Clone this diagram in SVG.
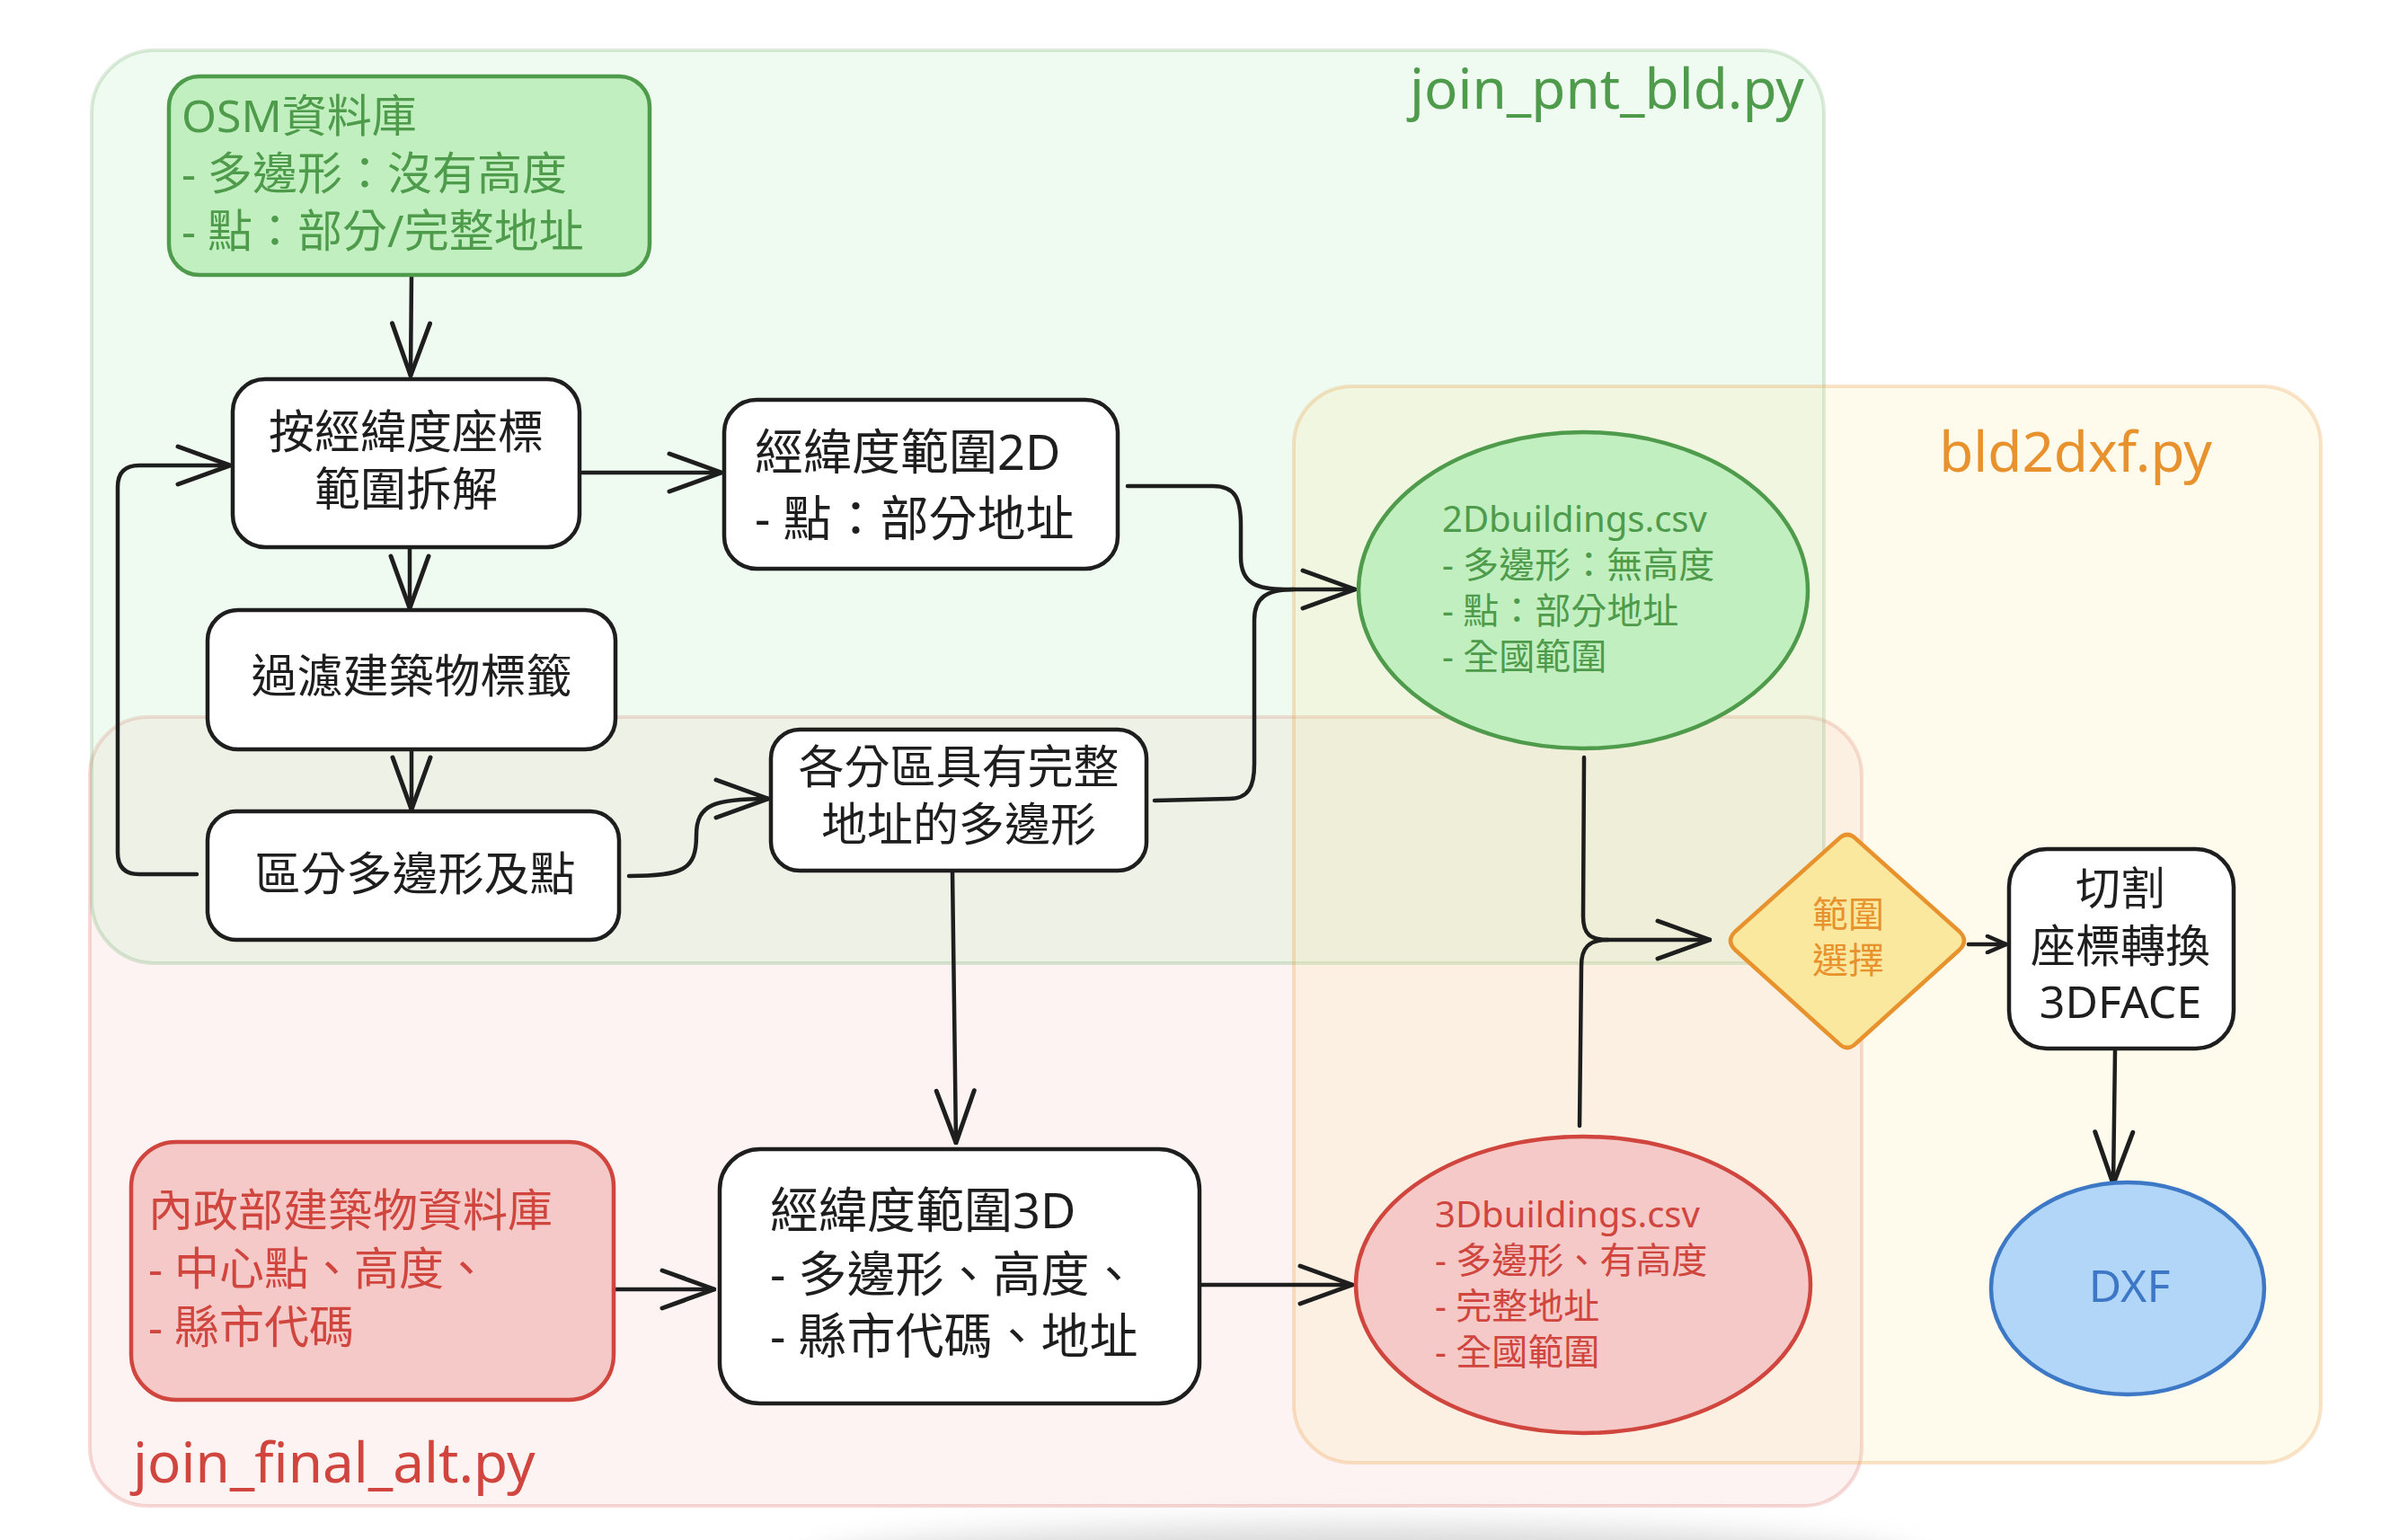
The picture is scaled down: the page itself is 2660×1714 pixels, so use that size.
<svg xmlns="http://www.w3.org/2000/svg" width="2660" height="1714" viewBox="0 0 2660 1714">
<defs>
<style>
text{font-family:'Noto Sans','Noto Sans CJK TC',sans-serif;}
.frame{stroke-width:4;}
.node{stroke-width:4.5;}
.black{fill:#1e1e1e;}
.blk{fill:#ffffff;stroke:#1e1e1e;}
.conn{fill:none;stroke:#1e1e1e;stroke-width:4.5;stroke-linecap:round;stroke-linejoin:round;}
.c{text-anchor:middle;}
.green{fill:#4f9b4c;}
.red{fill:#d0453d;}
</style>
<marker id="arrow" viewBox="0 0 64 48" refX="62" refY="24" markerWidth="64" markerHeight="48" markerUnits="userSpaceOnUse" orient="auto">
<path d="M 4 3 L 62 24 L 4 45" fill="none" stroke="#1e1e1e" stroke-width="5" stroke-linecap="round" stroke-linejoin="round"/>
</marker>
<marker id="arrowS" viewBox="0 0 26 22" refX="24" refY="11" markerWidth="26" markerHeight="22" markerUnits="userSpaceOnUse" orient="auto">
<path d="M 3 2 L 24 11 L 3 20" fill="none" stroke="#1e1e1e" stroke-width="4.5" stroke-linecap="round" stroke-linejoin="round"/>
</marker>
<filter id="blur" x="-20%" y="-200%" width="140%" height="500%">
<feGaussianBlur stdDeviation="18"/>
</filter>
</defs>
<rect x="0" y="0" width="2660" height="1714" fill="#ffffff"/>
<ellipse cx="1520" cy="1745" rx="620" ry="45" fill="#d6d6d6" filter="url(#blur)"/>

<g id="group-join-final-alt">
<rect class="frame" x="100" y="798" width="1972" height="878" rx="65" fill="#f4c9c8" fill-opacity="0.22" stroke="#d0453d" stroke-opacity="0.2"/>
<text class="red" x="148" y="1650" font-size="62">join_final_alt.py</text>
</g>
<g id="group-join-pnt-bld">
<rect class="frame" x="102" y="56" width="1928" height="1016" rx="70" fill="#b8efbc" fill-opacity="0.22" stroke="#4f9b4c" stroke-opacity="0.2"/>
<text class="green" x="2008" y="121" font-size="62" text-anchor="end">join_pnt_bld.py</text>
</g>
<g id="group-bld2dxf">
<rect class="frame" x="1440" y="430" width="1143" height="1198" rx="65" fill="#fae89e" fill-opacity="0.2" stroke="#e8922e" stroke-opacity="0.25"/>
<text x="2462" y="525" font-size="62" fill="#e8922e" text-anchor="end">bld2dxf.py</text>
</g>

<g id="connectors">
<path class="conn" d="M 458 306 L 457 418" marker-end="url(#arrow)"/>
<path class="conn" d="M 648 526 L 803 526" stroke-width="5" marker-end="url(#arrow)"/>
<path class="conn" d="M 456 610 L 456 677" marker-end="url(#arrow)"/>
<path class="conn" d="M 458 834 L 458 901" marker-end="url(#arrow)"/>
<path class="conn" d="M 219 973 L 155 973 Q 131 973 131 949 L 131 542 Q 131 518 155 518 L 256 518" marker-end="url(#arrow)"/>
<path class="conn" d="M 700 975 C 760 975 775 968 775 930 C 775 895 795 889 855 889" marker-end="url(#arrow)"/>
<path class="conn" d="M 1255 541 L 1350 541 C 1375 541 1381 555 1381 585 L 1381 620 C 1381 650 1400 656 1430 656 L 1508 656" stroke-width="5" marker-end="url(#arrow)"/>
<path class="conn" d="M 1285 891 L 1368 889 C 1390 889 1396 875 1396 850 L 1396 690 C 1396 665 1410 656 1440 656"/>
<path class="conn" d="M 1060 969 L 1064 1272" marker-end="url(#arrow)"/>
<path class="conn" d="M 685 1435 L 795 1435" marker-end="url(#arrow)"/>
<path class="conn" d="M 1337 1430 L 1505 1430" stroke-width="5" marker-end="url(#arrow)"/>
<path class="conn" d="M 1763 843 L 1762 1020 C 1762 1040 1770 1046 1790 1046 L 1903 1046" marker-end="url(#arrow)"/>
<path class="conn" d="M 1758 1253 L 1760 1075 C 1760 1055 1768 1046 1790 1046"/>
<path class="conn" d="M 2191 1051 L 2233 1051" marker-end="url(#arrowS)"/>
<path class="conn" d="M 2354 1169 L 2352 1318" marker-end="url(#arrow)"/>
</g>

<g id="node-osm">
<rect class="node" x="188" y="85" width="535" height="221" rx="34" fill="#c1efbf" stroke="#4f9b4c"/>
<text class="green" font-size="50"><tspan x="202" y="147">OSM資料庫</tspan><tspan x="202" y="211">- 多邊形：沒有高度</tspan><tspan x="202" y="275">- 點：部分/完整地址</tspan></text>
</g>
<g id="node-split">
<rect class="node blk" x="259" y="422" width="386" height="187" rx="36"/>
<text class="c black" font-size="51"><tspan x="452" y="499">按經緯度座標</tspan><tspan x="452" y="563">範圍拆解</tspan></text>
</g>
<g id="node-range2d">
<rect class="node blk" x="806" y="445" width="438" height="188" rx="36"/>
<text class="black" font-size="54"><tspan x="840" y="523">經緯度範圍2D</tspan><tspan x="840" y="597">- 點：部分地址</tspan></text>
</g>
<g id="node-filter">
<rect class="node blk" x="231" y="679" width="454" height="155" rx="34"/>
<text class="c black" font-size="51" x="458" y="771">過濾建築物標籤</text>
</g>
<g id="node-separate">
<rect class="node blk" x="231" y="903" width="458" height="143" rx="32"/>
<text class="c black" font-size="51" x="462" y="991">區分多邊形及點</text>
</g>
<g id="node-full-address">
<rect class="node blk" x="858" y="812" width="418" height="157" rx="32"/>
<text class="c black" font-size="51"><tspan x="1067" y="872">各分區具有完整</tspan><tspan x="1067" y="936">地址的多邊形</tspan></text>
</g>
<g id="node-moi">
<rect class="node" x="146" y="1271" width="537" height="287" rx="50" fill="#f4c9c8" stroke="#d0453d"/>
<text class="red" font-size="50"><tspan x="165" y="1365">內政部建築物資料庫</tspan><tspan x="165" y="1430">- 中心點、高度、</tspan><tspan x="165" y="1495">- 縣市代碼</tspan></text>
</g>
<g id="node-range3d">
<rect class="node blk" x="801" y="1279" width="534" height="283" rx="45"/>
<text class="black" font-size="54"><tspan x="857" y="1367">經緯度範圍3D</tspan><tspan x="857" y="1438">- 多邊形、高度、</tspan><tspan x="857" y="1507">- 縣市代碼、地址</tspan></text>
</g>
<g id="node-2dbuildings">
<ellipse class="node" cx="1762" cy="657" rx="250" ry="176" fill="#c1efbf" stroke="#4f9b4c" stroke-width="5"/>
<text class="green" font-size="40"><tspan x="1605" y="592">2Dbuildings.csv</tspan><tspan x="1605" y="643">- 多邊形：無高度</tspan><tspan x="1605" y="694">- 點：部分地址</tspan><tspan x="1605" y="745">- 全國範圍</tspan></text>
</g>
<g id="node-3dbuildings">
<ellipse class="node" cx="1762" cy="1430" rx="253" ry="165" fill="#f4c9c8" stroke="#d0453d" stroke-width="5"/>
<text class="red" font-size="40"><tspan x="1597" y="1366">3Dbuildings.csv</tspan><tspan x="1597" y="1417">- 多邊形、有高度</tspan><tspan x="1597" y="1468">- 完整地址</tspan><tspan x="1597" y="1519">- 全國範圍</tspan></text>
</g>
<g id="node-range-select">
<path class="node" d="M 2046 934 Q 2056 924 2066 934 L 2181 1037 Q 2191 1047 2181 1057 L 2066 1161 Q 2056 1171 2046 1161 L 1931 1057 Q 1921 1047 1931 1037 Z" fill="#fae89e" stroke="#e8922e" stroke-width="5" stroke-linejoin="round"/>
<text class="c" font-size="40" fill="#e8922e"><tspan x="2057" y="1032">範圍</tspan><tspan x="2057" y="1083">選擇</tspan></text>
</g>
<g id="node-3dface">
<rect class="node blk" x="2236" y="945" width="250" height="222" rx="42"/>
<text class="c black" font-size="50"><tspan x="2360" y="1007">切割</tspan><tspan x="2360" y="1071">座標轉換</tspan><tspan x="2360" y="1133">3DFACE</tspan></text>
</g>
<g id="node-dxf">
<ellipse class="node" cx="2368" cy="1434" rx="152" ry="118" fill="#b1d6f8" stroke="#3d78c6" stroke-width="5"/>
<text class="c" font-size="50" fill="#3d78c6" x="2370" y="1449">DXF</text>
</g>
</svg>
